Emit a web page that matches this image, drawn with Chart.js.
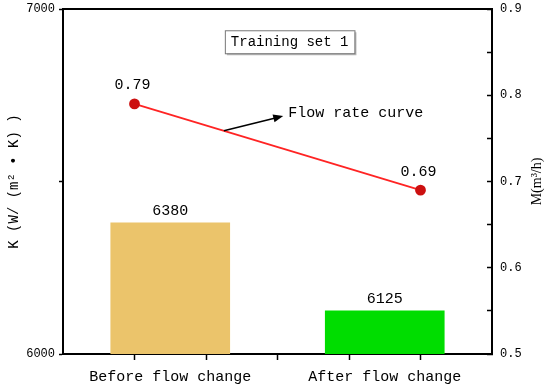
<!DOCTYPE html>
<html>
<head>
<meta charset="utf-8">
<script src="https://cdn.jsdelivr.net/npm/chart.js@4.4.0/dist/chart.umd.min.js"></script>
<style>
  html, body { margin: 0; padding: 0; background: #fff; }
  #wrap { width: 550px; height: 389px; }
</style>
</head>
<body>
<div id="wrap"><canvas id="chart"></canvas></div>
<script>
// Data
const categories = ['Before flow change', 'After flow change'];
const kValues = [6380, 6125];          // heat transfer coefficient, left axis
const flowRate = [0.79, 0.69];         // M (m3/h), right axis
const flowX = [1, 5];                  // line points sit on the 1st and 5th minor tick of the 0-6 axis
const kTicks = [6000, 6500, 7000];
const barColors = ['#EBC46B', '#00DD00'];

// bars sit in the middle of each half of the 0-6 axis
const xMax = 6;
const barX = categories.map((c, i) => (i + 0.5) * xMax / categories.length);

Chart.defaults.font.family = '"Liberation Mono", monospace';
Chart.defaults.color = '#000';

const serifCJK = '"Liberation Serif", "Noto Sans CJK SC", serif';

// frame, value labels and annotations
const extras = {
    id: 'extras',
    afterDatasetsDraw(chart) {
        const ctx = chart.ctx;
        const area = chart.chartArea;
        const xs = chart.scales.x;
        const ys = chart.scales.y1;

        ctx.save();
        // top side of the frame
        ctx.strokeStyle = '#000';
        ctx.lineWidth = 2;
        ctx.beginPath();
        ctx.moveTo(area.left - 1, area.top);
        ctx.lineTo(area.right + 1, area.top);
        ctx.stroke();

        ctx.fillStyle = '#000';
        ctx.font = '15px "Liberation Mono", monospace';
        ctx.textAlign = 'center';
        ctx.textBaseline = 'bottom';

        // bar values
        chart.getDatasetMeta(0).data.forEach((el, i) => {
            ctx.fillText(String(kValues[i]), el.x, el.y - 4);
        });
        // line values
        chart.getDatasetMeta(1).data.forEach((el, i) => {
            ctx.fillText(flowRate[i].toFixed(2), el.x - 2, el.y - 11);
        });

        // "Training set 1" box
        const label = 'Training set 1';
        ctx.font = '14px "Liberation Mono", monospace';
        const tw = ctx.measureText(label).width;
        const bx = xs.getPixelForValue(3.17);
        const by = ys.getPixelForValue(0.862);
        const bw = tw + 12, bh = 23;
        ctx.fillStyle = '#bbb';
        ctx.fillRect(bx - bw / 2 + 2, by - bh / 2 + 2, bw, bh);
        ctx.fillStyle = '#fff';
        ctx.fillRect(bx - bw / 2, by - bh / 2, bw, bh);
        ctx.strokeStyle = '#777';
        ctx.lineWidth = 1;
        ctx.strokeRect(bx - bw / 2 + 0.5, by - bh / 2 + 0.5, bw, bh);
        ctx.fillStyle = '#000';
        ctx.textBaseline = 'middle';
        ctx.fillText(label, bx, by + 1);

        // arrow pointing at the flow line
        const t = (2.25 - flowX[0]) / (flowX[1] - flowX[0]);
        const ax = xs.getPixelForValue(2.25);
        const ay = ys.getPixelForValue(flowRate[0] + t * (flowRate[1] - flowRate[0]));
        const ex = xs.getPixelForValue(3.08);
        const ey = ys.getPixelForValue(0.776);
        const ang = Math.atan2(ey - ay, ex - ax);
        ctx.strokeStyle = '#000';
        ctx.lineWidth = 1.5;
        ctx.beginPath();
        ctx.moveTo(ax, ay);
        ctx.lineTo(ex - 6 * Math.cos(ang), ey - 6 * Math.sin(ang));
        ctx.stroke();
        ctx.beginPath();
        ctx.moveTo(ex, ey);
        ctx.lineTo(ex - 10 * Math.cos(ang) + 4 * Math.sin(ang), ey - 10 * Math.sin(ang) - 4 * Math.cos(ang));
        ctx.lineTo(ex - 10 * Math.cos(ang) - 4 * Math.sin(ang), ey - 10 * Math.sin(ang) + 4 * Math.cos(ang));
        ctx.closePath();
        ctx.fill();

        ctx.font = '15px "Liberation Mono", monospace';
        ctx.textAlign = 'left';
        ctx.fillText('Flow rate curve', xs.getPixelForValue(3.15), ys.getPixelForValue(0.779));

        // right axis title, reading bottom to top
        ctx.save();
        ctx.translate(ys.right - 13, (area.top + area.bottom) / 2);
        ctx.rotate(-Math.PI / 2);
        ctx.textAlign = 'center';
        ctx.textBaseline = 'middle';
        ctx.font = '14px ' + serifCJK;
        ctx.fillText('M(m³/h)', 0, 0);
        ctx.restore();

        ctx.restore();
    }
};

// vertical axes should not push the plot down for their end labels
const noPad = s => { s.paddingTop = 0; s.paddingBottom = 0; };

new Chart(document.getElementById('chart'), {
    type: 'bar',
    data: {
        labels: categories,
        datasets: [
            {
                type: 'bar',
                data: barX.map((x, i) => ({ x: x, y: kValues[i] })),
                backgroundColor: barColors,
                xAxisID: 'x',
                yAxisID: 'y',
                barThickness: 119,
                order: 2
            },
            {
                type: 'line',
                data: flowX.map((x, i) => ({ x: x, y: flowRate[i] })),
                xAxisID: 'x',
                yAxisID: 'y1',
                borderColor: '#FF2424',
                borderWidth: 1.8,
                pointRadius: 4.5,
                pointBackgroundColor: '#CC1010',
                pointBorderColor: '#CC1010',
                order: 1
            }
        ]
    },
    options: {
        responsive: true,
        maintainAspectRatio: false,
        animation: false,
        layout: { padding: { top: 9, left: 0, right: 0, bottom: 0 } },
        plugins: {
            legend: { display: false },
            tooltip: { enabled: false }
        },
        scales: {
            x: {
                type: 'linear',
                position: 'bottom',
                min: 0,
                max: xMax,
                offset: false,
                weight: 0,
                ticks: { display: false, stepSize: 1 },
                afterBuildTicks: s => { s.ticks = s.ticks.filter(t => t.value > 0 && t.value < xMax); },
                grid: { offset: false, drawOnChartArea: false, tickLength: 6, color: '#000', tickWidth: 1.5 },
                border: { color: '#000', width: 2 },
                afterFit: s => { s.height = 8; }
            },
            xc: {
                type: 'category',
                position: 'bottom',
                offset: true,
                weight: 1,
                grid: { display: false, drawTicks: false },
                border: { display: false },
                ticks: { font: { size: 15 }, padding: 6, maxRotation: 0 },
                afterFit: s => { s.height = 27; }
            },
            y: {
                type: 'linear',
                position: 'left',
                min: 6000,
                max: 7000,
                afterBuildTicks: s => { s.ticks = kTicks.map(v => ({ value: v })); },
                ticks: {
                    font: { size: 12 },
                    padding: 4,
                    callback: v => (v === 6500 ? '' : v)
                },
                grid: { drawOnChartArea: false, tickLength: 4, color: '#000', tickWidth: 1.5 },
                border: { color: '#000', width: 2 },
                title: {
                    display: true,
                    text: 'K (W/ (m² • K) )',
                    font: { size: 14, family: '"Liberation Mono", monospace' },
                    padding: { top: 6, bottom: 0 }
                },
                afterFit: s => { s.width = 63; noPad(s); }
            },
            y1: {
                type: 'linear',
                position: 'right',
                min: 0.5,
                max: 0.9,
                ticks: {
                    stepSize: 0.05,
                    font: { size: 12 },
                    padding: 13,
                    callback: v => (Math.abs(v * 10 - Math.round(v * 10)) < 1e-6 ? v.toFixed(1) : '')
                },
                grid: { drawOnChartArea: false, tickLength: -5, color: '#000', tickWidth: 1.5 },
                border: { color: '#000', width: 2 },
                afterFit: s => { s.width = 58; noPad(s); }
            }
        }
    },
    plugins: [extras]
});
</script>
</body>
</html>
